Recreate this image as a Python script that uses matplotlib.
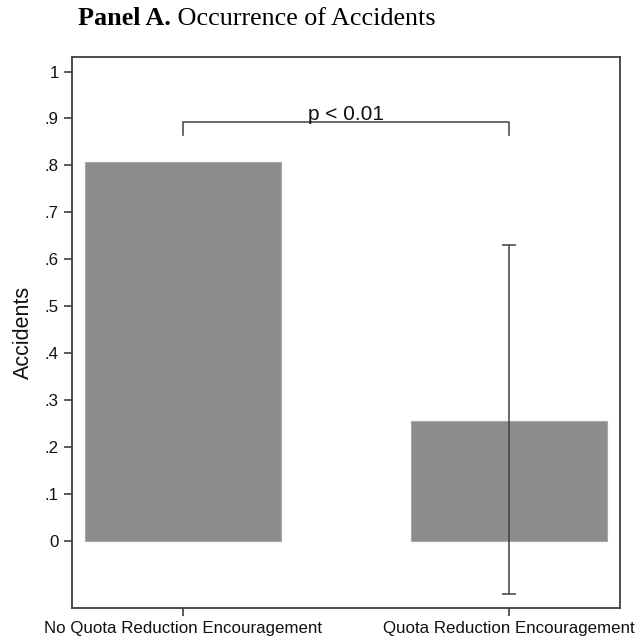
import numpy as np
import matplotlib.pyplot as plt

groups = ["No Quota Reduction Encouragement", "Quota Reduction Encouragement"]
accidents = [0.808, 0.256]
ci_low = [np.nan, -0.114]
ci_high = [np.nan, 0.630]
yticks = [0, 0.1, 0.2, 0.3, 0.4, 0.5, 0.6, 0.7, 0.8, 0.9, 1.0]
ytick_labels = ["0", ".1", ".2", ".3", ".4", ".5", ".6", ".7", ".8", ".9", "1"]
p_label = "p < 0.01"
bracket_y = 0.892
bracket_drop = 0.027

plt.rcParams['font.family'] = ['Liberation Sans', 'DejaVu Sans']

fig = plt.figure(figsize=(6.4, 6.44), dpi=100)
ax = fig.add_axes([0.1125, 0.0559, 0.856, 0.8556])

x = np.arange(len(groups))
ax.bar(x, accidents, width=0.6, color='#8c8c8c', edgecolor='#a8a8a8', linewidth=0.8, zorder=2)

# confidence interval only drawn where available
acc = np.array(accidents)
lo = np.array(ci_low)
hi = np.array(ci_high)
has_ci = ~np.isnan(lo)
ax.errorbar(x[has_ci], acc[has_ci],
            yerr=[acc[has_ci] - lo[has_ci], hi[has_ci] - acc[has_ci]],
            fmt='none', ecolor='#404040', elinewidth=1.1, capsize=5, capthick=1.1, zorder=3)

# significance bracket between the two groups
ax.plot([x[0], x[0], x[1], x[1]],
        [bracket_y - bracket_drop, bracket_y, bracket_y, bracket_y - bracket_drop],
        color='#505050', lw=1.2, zorder=3)
ax.text((x[0] + x[1]) / 2, bracket_y - 0.004, p_label, ha='center', va='bottom', fontsize=15, color='#111111')

ax.set_xlim(-0.34, 1.34)
ax.set_ylim(-0.1435, 1.031)
ax.set_xticks(x)
ax.set_xticklabels(groups, fontsize=12.2)
ax.set_yticks(yticks)
ax.set_yticklabels(ytick_labels, fontsize=12.2)
ax.tick_params(axis='both', direction='out', length=6, width=1.2, color='#404040', pad=3.5, labelcolor='#111111')
ax.set_ylabel("Accidents", fontsize=15.5, color='#111111')
ax.yaxis.set_label_coords(-0.069, 0.5)

for s in ax.spines.values():
    s.set_color('#404040')
    s.set_linewidth(1.3)

# panel title: bold prefix followed by regular text
t1 = fig.text(0.122, 0.954, "Panel A.", fontsize=18.8, fontweight='bold',
              family=['Liberation Serif'], ha='left', va='bottom')
ax.annotate(" Occurrence of Accidents", xy=(1, 0), xycoords=t1, xytext=(0, 0),
            textcoords='offset points', fontsize=18.8, family=['Liberation Serif'],
            ha='left', va='bottom', annotation_clip=False)

fig.savefig("out.png", dpi=100)
